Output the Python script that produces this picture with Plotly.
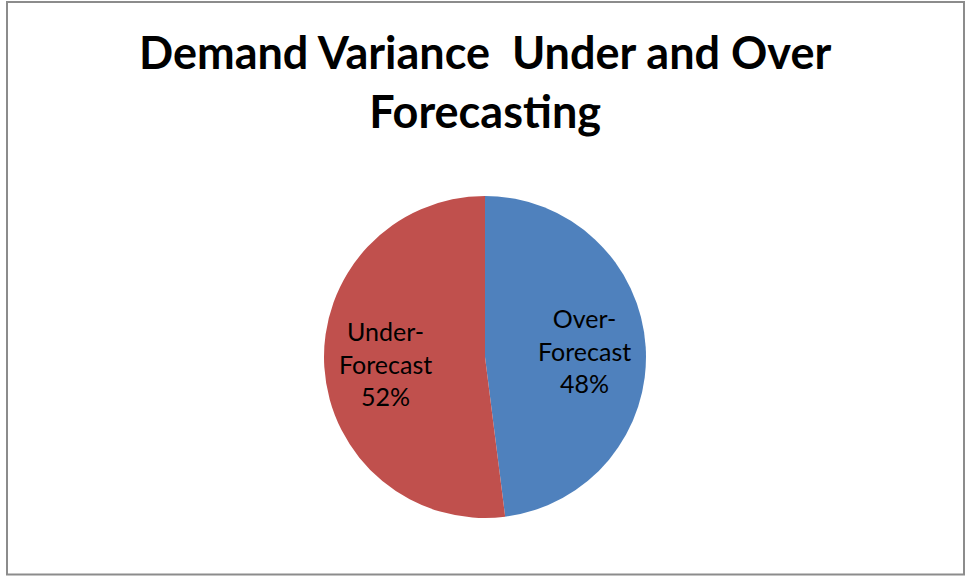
import math
import plotly.graph_objects as go

W, H = 966, 577

categories = ["Over-<br>Forecast", "Under-<br>Forecast"]
values = [48, 52]
colors = ["#4F81BD", "#C0504D"]
title_text = "Demand Variance  Under and Over<br>Forecasting"

# pie geometry (pixels)
cx, cy, R = 485, 357, 161
dom_x = [(cx - R) / W, (cx + R) / W]
dom_y = [(H - cy - R) / H, (H - cy + R) / H]

fig = go.Figure()
fig.add_trace(go.Pie(
    labels=categories,
    values=values,
    sort=False,
    direction="clockwise",
    rotation=0,
    marker=dict(colors=colors, line=dict(width=0)),
    textinfo="none",
    hoverinfo="label+percent",
    showlegend=False,
    domain=dict(x=dom_x, y=dom_y),
))

# data labels placed at each slice's mid-angle
total = sum(values)
cum = 0
for lab, v in zip(categories, values):
    mid = (cum + v / 2) / total * 2 * math.pi  # clockwise from top
    cum += v
    px = cx + 0.62 * R * math.sin(mid)
    py = cy - 0.62 * R * math.cos(mid)
    fig.add_annotation(
        text=f"{lab}<br>{round(v / total * 100)}%",
        x=px / W, y=1 - py / H, xref="paper", yref="paper",
        xanchor="center", yanchor="middle", showarrow=False,
        font=dict(family="Lato", size=25, color="black"),
    )

fig.add_annotation(
    text="<b>" + title_text + "</b>",
    x=485 / W, y=1 - 81 / H, xref="paper", yref="paper",
    xanchor="center", yanchor="middle", showarrow=False,
    font=dict(family="Lato", size=45, color="black"),
)

fig.add_shape(type="rect", xref="paper", yref="paper",
              x0=7 / W, x1=964 / W, y0=1 - 574.5 / H, y1=1 - 2 / H,
              line=dict(color="#8C8C8C", width=2), fillcolor="rgba(0,0,0,0)")

fig.update_layout(
    width=W, height=H,
    margin=dict(l=0, r=0, t=0, b=0),
    paper_bgcolor="white", plot_bgcolor="white",
)

fig.write_html("out.html")
